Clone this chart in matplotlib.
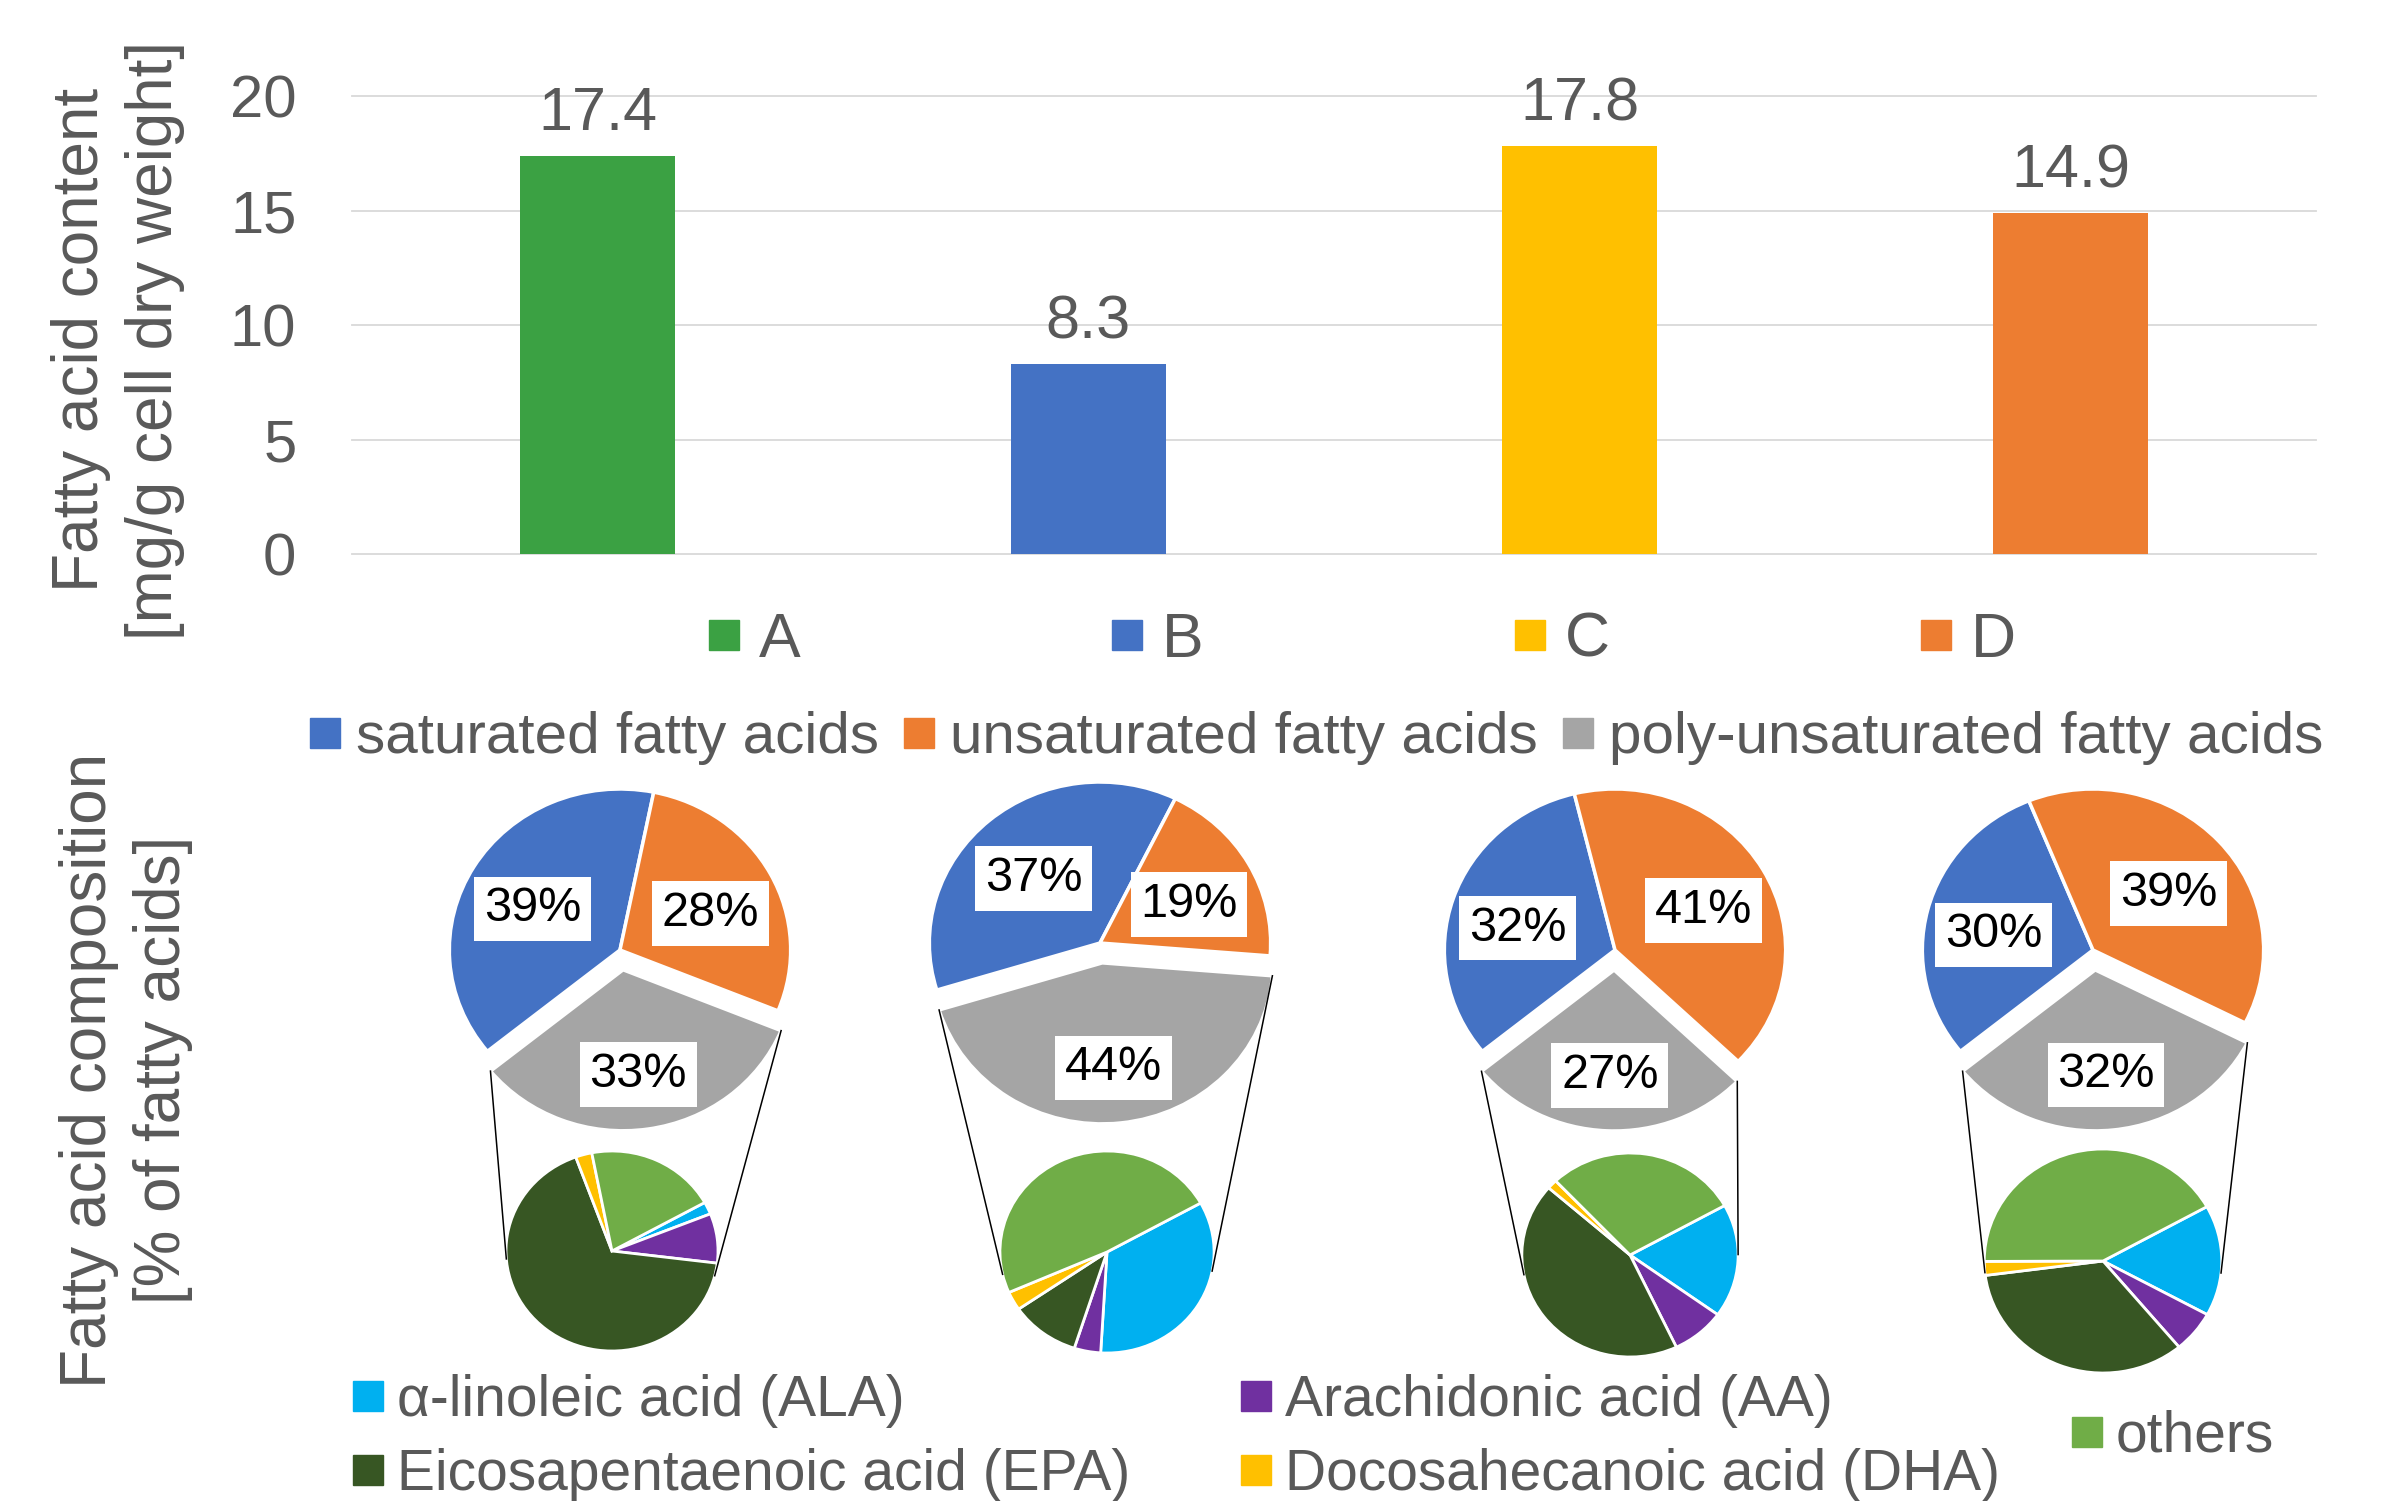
import matplotlib

matplotlib.use("Agg")
import matplotlib.pyplot as plt
import numpy as np
from matplotlib.lines import Line2D

plt.rcParams["font.family"] = ["Liberation Sans", "DejaVu Sans"]

# Fatty acid content per sample (mg/g cell dry weight)
samples = ["A", "B", "C", "D"]
fa_content = [17.4, 8.3, 17.8, 14.9]
sample_colors = ["#3BA143", "#4472C4", "#FFC000", "#ED7D31"]

# Fatty acid classes (% of fatty acids)
class_names = [
    "saturated fatty acids",
    "unsaturated fatty acids",
    "poly-unsaturated fatty acids",
]
saturated = [39, 37, 32, 30]
unsaturated = [28, 19, 41, 39]
poly_unsaturated = [33, 44, 27, 32]
class_colors = ["#4472C4", "#ED7D31", "#A5A5A5"]

# Break-down of the poly-unsaturated part
pufa_names = [
    "α-linoleic acid (ALA)",
    "Arachidonic acid (AA)",
    "Eicosapentaenoic acid (EPA)",
    "Docosahecanoic acid (DHA)",
    "others",
]
ala = [2, 34, 18, 16]
aa = [8, 4, 8, 6]
epa = [67.5, 10.5, 43.5, 34]
dha = [2.5, 3, 1.5, 2]
others = [20, 48.5, 29, 42]
pufa_colors = ["#00B0F0", "#7030A0", "#375623", "#FFC000", "#70AD47"]

TXT = "#595959"
W, H = 2381, 1501
SX = 1.06  # pies in the original are a bit wider than tall

# layout of the pie row (pixel positions in the picture)
big_centers = [(620, 950), (1100, 943), (1615, 950), (2093, 950)]
big_r = 161
big_start = [219, 197, 219, 219]
small_centers = [(612, 1251), (1107, 1252), (1630, 1255), (2103, 1261)]
small_r = [100, 101, 102, 112]
small_start = 29
grey_offset = 20
label_drop = 9  # Excel "best fit" sits the labels a little lower


def to_data(px, py):
    return px / SX, H - py


def tangent_point(p, c, r, left):
    # touching point of the tangent from p to circle (c, r)
    d = np.hypot(c[0] - p[0], c[1] - p[1])
    phi = np.arctan2(c[1] - p[1], c[0] - p[0])
    alpha = np.arcsin(r / d)
    length = np.sqrt(d**2 - r**2)
    pts = [
        (p[0] + length * np.cos(phi + s * alpha), p[1] + length * np.sin(phi + s * alpha))
        for s in (1, -1)
    ]
    pts.sort(key=lambda t: t[0])
    return pts[0] if left else pts[-1]


def square_handles(colors):
    return [Line2D([], [], ls="", marker="s", ms=21, color=c) for c in colors]


fig = plt.figure(figsize=(W / 100, H / 100), dpi=100)

# --- bar chart ---
ax = fig.add_axes([352 / W, 1 - 554 / H, (2316 - 352) / W, (554 - 96) / H])
x = np.arange(len(samples))
bars = ax.bar(x, fa_content, width=0.314, color=sample_colors)
ax.bar_label(
    bars,
    labels=[f"{v:.1f}" for v in fa_content],
    padding=9,
    fontsize=44,
    color=TXT,
)
ax.set_xlim(-0.5, 3.5)
ax.set_ylim(0, 20)
ax.set_yticks([0, 5, 10, 15, 20])
ax.set_xticks([])
ax.yaxis.grid(True, color="#D9D9D9", linewidth=1.3)
for gl in ax.get_ygridlines():
    gl.set_clip_on(False)
ax.set_axisbelow(True)
for s in ax.spines.values():
    s.set_visible(False)
ax.tick_params(axis="y", length=0, pad=40, labelsize=43, labelcolor=TXT)

fig.text(
    118 / W,
    1 - 340 / H,
    "Fatty acid content\n[mg/g cell dry weight]",
    rotation=90,
    ha="center",
    va="center",
    fontsize=46,
    color=TXT,
    linespacing=1.3,
)

fig.legend(
    square_handles(sample_colors),
    samples,
    loc="center left",
    bbox_to_anchor=(707 / W, 1 - 640 / H),
    ncol=4,
    frameon=False,
    fontsize=45,
    labelcolor=TXT,
    handlelength=0.55,
    handletextpad=0.28,
    columnspacing=4.95,
    borderpad=0,
    borderaxespad=0,
)

# --- pies ---
ax2 = fig.add_axes([0, 0, 1, 1])
ax2.set_facecolor("none")

for i in range(len(samples)):
    center = to_data(*big_centers[i])
    vals = [saturated[i], unsaturated[i], poly_unsaturated[i]]
    wedges, _ = ax2.pie(
        vals,
        colors=class_colors,
        center=center,
        radius=big_r,
        startangle=big_start[i],
        counterclock=False,
        explode=[0, 0, grey_offset],
        wedgeprops=dict(edgecolor="white", linewidth=2.5),
    )
    for w, v in zip(wedges, vals):
        mid = np.deg2rad((w.theta1 + w.theta2) / 2)
        ax2.text(
            w.center[0] + 0.6 * big_r * np.cos(mid),
            w.center[1] + 0.6 * big_r * np.sin(mid) - label_drop,
            f"{v}%",
            ha="center",
            va="center",
            fontsize=35,
            color="black",
            bbox=dict(boxstyle="square,pad=0.2", fc="white", ec="none"),
        )

    sub_center = to_data(*small_centers[i])
    sub = [ala[i], aa[i], epa[i], dha[i], others[i]]
    ax2.pie(
        sub,
        colors=pufa_colors,
        center=sub_center,
        radius=small_r[i],
        startangle=small_start,
        counterclock=False,
        wedgeprops=dict(edgecolor="white", linewidth=2),
    )

    # connector lines from the exploded slice to the small pie
    g = wedges[2]
    corners = [
        (g.center[0] + big_r * np.cos(np.deg2rad(t)), g.center[1] + big_r * np.sin(np.deg2rad(t)))
        for t in (g.theta1, g.theta2)
    ]
    corners.sort(key=lambda t: t[0])
    for corner, left in zip(corners, (True, False)):
        tp = tangent_point(corner, sub_center, small_r[i], left)
        ax2.plot([corner[0], tp[0]], [corner[1], tp[1]], color="black", lw=1.1)

ax2.set_aspect("auto")
ax2.set_xlim(0, W / SX)
ax2.set_ylim(0, H)
ax2.axis("off")

fig.text(
    126 / W,
    1 - 1070 / H,
    "Fatty acid composition\n[% of fatty acids]",
    rotation=90,
    ha="center",
    va="center",
    fontsize=46,
    color=TXT,
    linespacing=1.3,
)

fig.legend(
    square_handles(class_colors),
    class_names,
    loc="center left",
    bbox_to_anchor=(309 / W, 1 - 738 / H),
    ncol=3,
    frameon=False,
    fontsize=42,
    labelcolor=TXT,
    handlelength=0.55,
    handletextpad=0.25,
    columnspacing=0.42,
    borderpad=0,
    borderaxespad=0,
)

order = [0, 2, 1, 3]
fig.legend(
    square_handles([pufa_colors[k] for k in order]),
    [pufa_names[k] for k in order],
    loc="center left",
    bbox_to_anchor=(352 / W, 1 - 1438 / H),
    ncol=2,
    frameon=False,
    fontsize=41,
    labelcolor=TXT,
    handlelength=0.55,
    handletextpad=0.24,
    columnspacing=1.93,
    labelspacing=0.36,
    borderpad=0,
    borderaxespad=0,
)
fig.legend(
    square_handles([pufa_colors[4]]),
    [pufa_names[4]],
    loc="center left",
    bbox_to_anchor=(2071 / W, 1 - 1437 / H),
    frameon=False,
    fontsize=41,
    labelcolor=TXT,
    handlelength=0.55,
    handletextpad=0.24,
    borderpad=0,
    borderaxespad=0,
)

fig.savefig("out.png", dpi=100)
